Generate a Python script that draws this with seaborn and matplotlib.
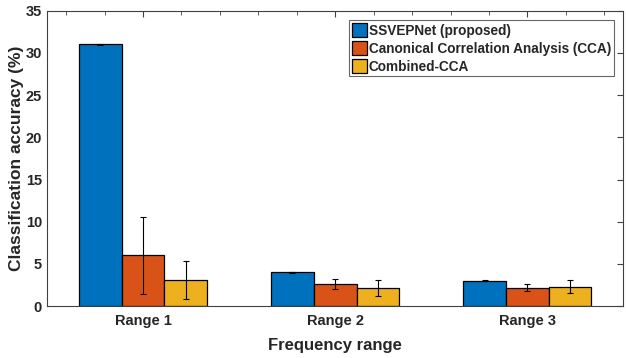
import pandas as pd
import seaborn as sns
import matplotlib.pyplot as plt
import numpy as np
from matplotlib.ticker import MultipleLocator

ranges = ['Range 1', 'Range 2', 'Range 3']
methods = ['SSVEPNet (proposed)', 'Canonical Correlation Analysis (CCA)', 'Combined-CCA']
ssvepnet = [31.0, 4.0, 3.0]
cca = [6.0, 2.6, 2.2]
ccca = [3.1, 2.2, 2.3]
ssvepnet_err = [0.05, 0.05, 0.05]
cca_err = [4.55, 0.6, 0.45]
ccca_err = [2.3, 0.95, 0.8]

colors = ['#0072BD', '#D95319', '#EDB120']

Data = pd.DataFrame({
    'range': ranges * 3,
    'method': np.repeat(methods, 3),
    'acc': ssvepnet + cca + ccca,
    'err': ssvepnet_err + cca_err + ccca_err,
})

sns.set_style('white')
plt.rcParams['font.family'] = ['Liberation Sans', 'DejaVu Sans']
plt.rcParams['font.weight'] = 'bold'

fig, ax = plt.subplots(figsize=(6.26, 3.58), dpi=100)
sns.barplot(data=Data, x='range', y='acc', hue='method', palette=colors,
            width=0.667, errorbar=None, edgecolor='black', linewidth=0.9,
            saturation=1, ax=ax)

# error bars at the drawn bar centres
for cont, m in zip(ax.containers, methods):
    errs = Data.loc[Data['method'] == m, 'err'].values
    xs = [p.get_x() + p.get_width() / 2 for p in cont.patches]
    hs = [p.get_height() for p in cont.patches]
    ax.errorbar(xs, hs, yerr=errs, fmt='none', ecolor='black', elinewidth=0.8,
                capsize=2, capthick=0.8, zorder=5)

ax.set_xlim(-0.5, 2.5)
ax.set_ylim(0, 35)
ax.yaxis.set_major_locator(MultipleLocator(5))
ax.xaxis.set_minor_locator(MultipleLocator(0.2))
ax.tick_params(which='both', direction='in', top=True, right=True, color='#404040',
               labelsize=10.5, labelcolor='#262626')
ax.tick_params(which='major', length=4)
ax.tick_params(which='minor', length=3)
ax.tick_params(axis='x', pad=6)
for lab in ax.get_xticklabels() + ax.get_yticklabels():
    lab.set_fontweight('bold')
for s in ax.spines.values():
    s.set_color('#404040')
    s.set_linewidth(0.8)

ax.set_xlabel('Frequency range', fontsize=12, fontweight='bold', color='#262626', labelpad=7)
ax.set_ylabel('Classification accuracy (%)', fontsize=12.5, fontweight='bold', color='#262626',
              labelpad=1)

leg = ax.legend(loc='upper right', fontsize=9.8, frameon=True, fancybox=False,
                edgecolor='#404040', handlelength=1.1, handleheight=1.2, handletextpad=0.15,
                borderpad=0.2, labelspacing=0.25, borderaxespad=0.7)
leg.get_frame().set_linewidth(0.8)
for t in leg.get_texts():
    t.set_fontweight('bold')

plt.subplots_adjust(left=0.075, right=0.996, top=0.97, bottom=0.145)
plt.savefig('out.png', dpi=100)
